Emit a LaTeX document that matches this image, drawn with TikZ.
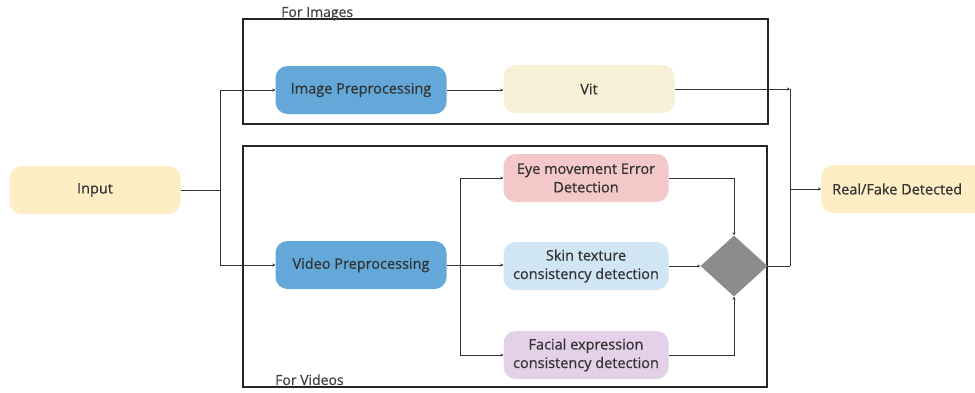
\documentclass[tikz,border=0pt]{standalone}
\usepackage{fontspec}
\setmainfont{Open Sans}[FakeBold=0.6]
\usetikzlibrary{arrows.meta,shapes.geometric}

\definecolor{inputcol}{HTML}{FDEEC6}
\definecolor{prepcol}{HTML}{63A8D8}
\definecolor{vitcol}{HTML}{F8F0D6}
\definecolor{eyecol}{HTML}{F4C8C8}
\definecolor{skincol}{HTML}{D0E6F5}
\definecolor{facecol}{HTML}{E5D0EA}
\definecolor{linecol}{HTML}{333333}

\begin{document}
\begin{tikzpicture}[x=1pt,y=-1pt,
		blk/.style={rounded corners=12pt, minimum width=171pt, minimum height=48pt,
			align=center, inner sep=1pt, font=\fontsize{14.5}{18.5}\selectfont, text=black!80},
		sblk/.style={blk, minimum width=165pt},
		link/.style={draw=linecol, line width=0.7pt, -{Stealth[length=3pt,width=3pt]}},
		wire/.style={draw=linecol, line width=0.7pt},
		frame/.style={draw=black!85, line width=1.2pt},
		grouplbl/.style={anchor=base west, inner sep=1pt, font=\fontsize{14}{16}\selectfont, text=black!75}]
		\useasboundingbox (0,0) rectangle (975,392);
		% group frames
		\draw[frame] (243,19) rectangle (768,124);
		\draw[frame] (243,146) rectangle (767,387);
		\node[grouplbl] (lblimg) at (280,17) {For Images};
		\node[grouplbl] (lblvid) at (274,385) {For Videos};
		% blocks
		\node[blk, fill=inputcol] (input) at (95,190) {Input};
		\node[blk, fill=prepcol] (imgprep) at (361,90) {Image Preprocessing};
		\node[blk, fill=vitcol] (vit) at (589,89) {Vit};
		\node[blk, fill=prepcol] (vidprep) at (361,265) {Video Preprocessing};
		\node[sblk, fill=eyecol] (eye) at (586,178) {Eye movement Error\\Detection};
		\node[sblk, fill=skincol] (skin) at (586,266) {Skin texture\\consistency detection};
		\node[sblk, fill=facecol] (face) at (586,355) {Facial expression\\consistency detection};
		\node[diamond, fill=black!45, minimum width=67pt, minimum height=61pt, inner sep=0pt] (merge) at (734,266) {};
		\node[blk, fill=inputcol, minimum width=164pt, anchor=west] (result) at (821,189) {\hspace*{-12pt}Real/Fake Detected};
		% junctions
		\coordinate (split) at (220,190);
		\coordinate (vsplit) at (460,265);
		\coordinate (join) at (790,189);
		% connectors
		\draw[wire] (input.east) -- (split);
		\draw[link] (split) |- (imgprep.west);
		\draw[link] (split) |- (vidprep.west);
		\draw[link] (imgprep.east) -- (vit.west |- imgprep.east);
		\draw[link] (vit.east) -- (join |- vit.east);
		\draw[wire] (join |- vit.east) -- (join |- merge.east);
		\draw[wire] (merge.east) -- (join |- merge.east);
		\draw[link] (join) -- (result.west);
		\draw[link] (vidprep.east) -- (skin.west |- vidprep.east);
		\draw[wire] (vsplit |- eye.west) -- (vsplit |- face.west);
		\draw[link] (vsplit |- eye.west) -- (eye.west);
		\draw[link] (vsplit |- face.west) -- (face.west);
		\draw[link] (skin.east) -- (merge.west);
		\draw[link] (eye.east) -| (merge.north);
		\draw[link] (face.east) -| (merge.south);
	\end{tikzpicture}
\end{document}
